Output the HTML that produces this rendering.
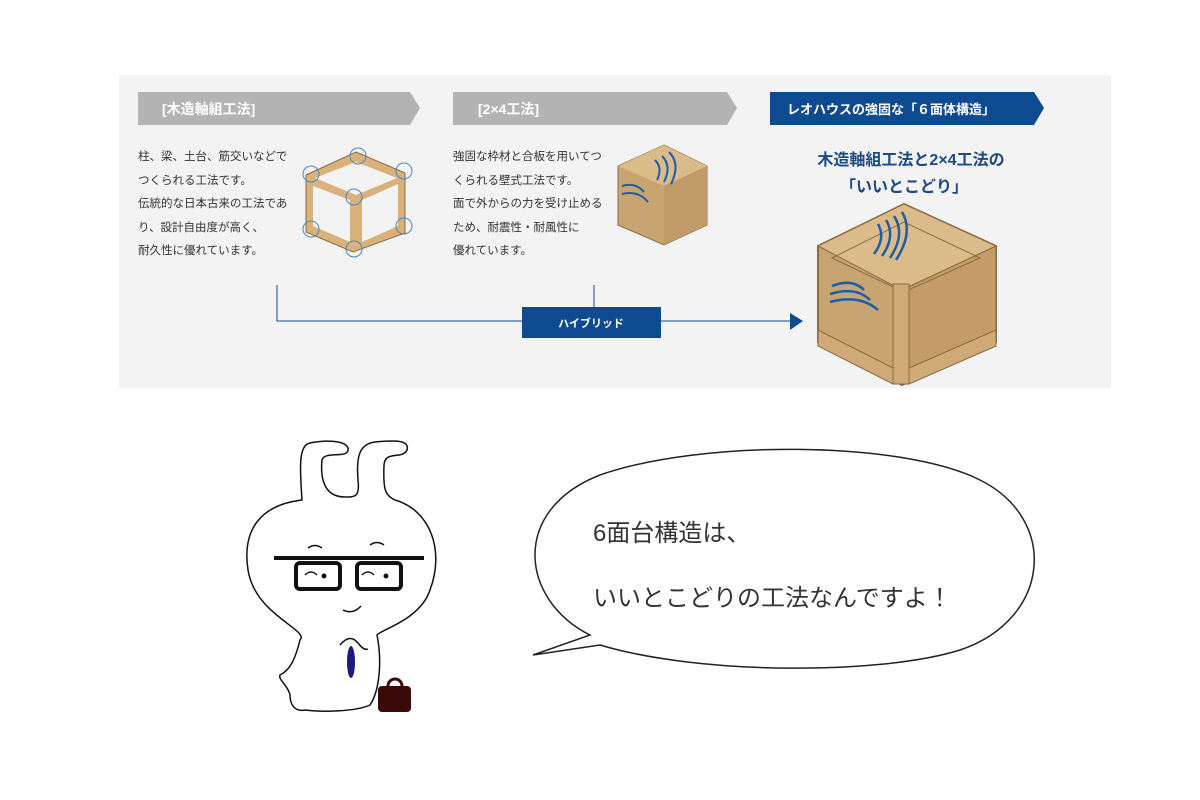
<!DOCTYPE html>
<html><head><meta charset="utf-8"><style>
body{margin:0;width:1200px;height:800px;background:#fff;position:relative;overflow:hidden;font-family:"Liberation Sans","Noto Sans CJK JP",sans-serif}
.t{position:absolute;font-size:11.5px;color:#333;line-height:23.5px;white-space:nowrap}
</style></head><body>
<svg width="1200" height="800" style="position:absolute;left:0;top:0" font-family="Liberation Sans, Noto Sans CJK JP, sans-serif">
<rect x="119" y="75" width="992" height="313" fill="#f3f3f3"/>
<polygon points="138,92 410,92 420,108 410,125 138,125" fill="#b3b3b3"/>
<text x="162" y="114" font-size="14" font-weight="bold" fill="#fff">[木造軸組工法]</text>
<polygon points="453,92 727,92 737,108 727,125 453,125" fill="#b3b3b3"/>
<text x="478" y="114" font-size="14" font-weight="bold" fill="#fff">[2×4工法]</text>
<polygon points="770,92 1034,92 1044,108 1034,125 770,125" fill="#0d4a8f"/>
<text x="787" y="114" font-size="13" font-weight="bold" fill="#fff">レオハウスの強固な「６面体構造」</text>
<text x="911" y="165" font-size="16" font-weight="bold" fill="#1a4a85" text-anchor="middle">木造軸組工法と2×4工法の</text>
<text x="904" y="192" font-size="16" font-weight="bold" fill="#1a4a85" text-anchor="middle">「いいとこどり」</text>
<!-- frame cube -->
<g stroke="#8a6a3e" stroke-width="1" fill="#d8b27a">
<polygon points="356,152 405,173 405,233 353,252 306,232 306,175"/>
</g>
<g fill="#f3f3f3"><polygon points="356,162 397,178 356,195 315,178"/><polygon points="313,186 350,200 350,242 313,226"/><polygon points="362,200 398,184 398,226 362,242"/></g>
<g fill="none" stroke="#4a86c0" stroke-width="1"><circle cx="358" cy="156" r="8"/><circle cx="404" cy="171" r="8"/><circle cx="311" cy="174" r="8"/><circle cx="354" cy="197" r="8"/><circle cx="311" cy="229" r="8"/><circle cx="404" cy="226" r="8"/><circle cx="354" cy="249" r="8"/></g>
<!-- 2x4 box -->
<polygon points="664,145 707,166 707,225 664,245 618,225 618,166" fill="#c9a473" stroke="#8a6a3e"/>
<polygon points="618,166 664,145 707,166 664,186" fill="#dcbb8a"/>
<polygon points="664,186 707,166 707,225 664,245" fill="#c09a68"/>
<g fill="none" stroke="#1a5ea8" stroke-width="2"><path d="M655,160 q8,8 2,20"/><path d="M662,156 q10,10 2,26"/><path d="M669,152 q12,12 2,32"/><path d="M622,186 q14,-4 22,6"/><path d="M622,194 q16,-4 26,8"/></g>
<!-- big box -->
<polygon points="904,204 996,246 996,342 902,385 818,342 818,246" fill="#c9a473" stroke="#8a6a3e" stroke-width="2"/>
<polygon points="818,246 904,204 996,246 902,290" fill="#dcbb8a" stroke="#8a6a3e"/>
<polygon points="902,290 996,246 996,342 902,385" fill="#c39c69" stroke="#8a6a3e"/>
<polygon points="832,258 904,222 980,258 904,292" fill="none" stroke="#8a6a3e"/>
<rect x="893" y="284" width="16" height="100" fill="#cfa978" stroke="#8a6a3e"/>
<polygon points="818,330 893,368 893,384 818,346" fill="#cfa978" stroke="#8a6a3e"/>
<polygon points="909,368 996,330 996,346 909,384" fill="#cfa978" stroke="#8a6a3e"/>
<g fill="none" stroke="#1a5ea8" stroke-width="2.5"><path d="M878,224 q8,14 -4,30"/><path d="M886,220 q10,16 -4,36"/><path d="M894,216 q12,18 -4,42"/><path d="M902,212 q12,20 -6,48"/><path d="M832,286 q20,-8 32,4"/><path d="M830,294 q26,-8 40,6"/><path d="M830,302 q30,-8 48,8"/></g>
<!-- hybrid connector -->
<path d="M277,285 V321 H790" fill="none" stroke="#0d4a8f" stroke-width="1"/>
<path d="M594,285 V307" stroke="#0d4a8f"/>
<polygon points="790,313 803,321 790,330" fill="#0d4a8f"/>
<rect x="522" y="307" width="139" height="31" fill="#0d4a8f"/>
<text x="591" y="327" font-size="11" font-weight="bold" fill="#fff" text-anchor="middle">ハイブリッド</text>
<!-- speech bubble -->
<path d="M590,635 C520,600 510,510 600,475 C700,440 900,440 980,480 C1060,520 1050,620 960,650 C880,675 700,675 600,645 L533,655 Z" fill="#fff" stroke="#222" stroke-width="1.5"/>
<text x="593" y="541" font-size="24" fill="#333">6面台構造は、</text>
<text x="593" y="606" font-size="24" fill="#333">いいとこどりの工法なんですよ！</text>
<!-- character -->
<g fill="none" stroke="#111" stroke-width="1.5">
<path d="M302,500 C300,470 298,445 310,443 C325,440 345,440 348,448 C350,460 325,450 322,460 C320,480 325,497 345,497 C355,497 360,497 358,480 C356,455 360,444 375,442 C395,440 410,440 407,450 C402,460 385,450 384,465 C383,490 385,495 395,500 C430,510 445,550 430,590 C420,620 380,630 377,635 C382,660 380,690 370,705 C355,712 320,712 305,710 C295,712 290,705 290,695 C288,685 278,680 280,675 C290,670 295,660 300,640 C310,630 255,615 248,570 C242,530 260,505 302,500 Z"/>
<path d="M308,548 q7,-5 14,0"/><path d="M370,545 q7,-5 14,0"/>
<path d="M305,575 q6,-6 12,0"/><path d="M362,575 q6,-6 12,0"/>
<path d="M343,610 q10,5 18,-4"/>
<path d="M340,645 q10,-12 18,-2 q6,8 10,6"/>
</g>
<g fill="none" stroke="#111" stroke-width="4"><path d="M274,558 H424"/><rect x="296" y="563" width="44" height="26" rx="4"/><rect x="357" y="563" width="44" height="26" rx="4"/></g>
<circle cx="324" cy="576" r="2.5" fill="#111"/><circle cx="386" cy="576" r="2.5" fill="#111"/>
<ellipse cx="351" cy="662" rx="4" ry="16" fill="#1a1a80"/>
<path d="M388,686 a7,7 0 0 1 14,0" fill="none" stroke="#3a0a0a" stroke-width="3"/>
<rect x="378" y="686" width="33" height="26" rx="4" fill="#3a0a0a"/>
</svg>
<div class="t" style="left:138px;top:146px">柱、梁、土台、筋交いなどで<br>つくられる工法です。<br>伝統的な日本古来の工法であ<br>り、設計自由度が高く、<br>耐久性に優れています。</div>
<div class="t" style="left:453px;top:146px">強固な枠材と合板を用いてつ<br>くられる壁式工法です。<br>面で外からの力を受け止める<br>ため、耐震性・耐風性に<br>優れています。</div>
</body></html>
